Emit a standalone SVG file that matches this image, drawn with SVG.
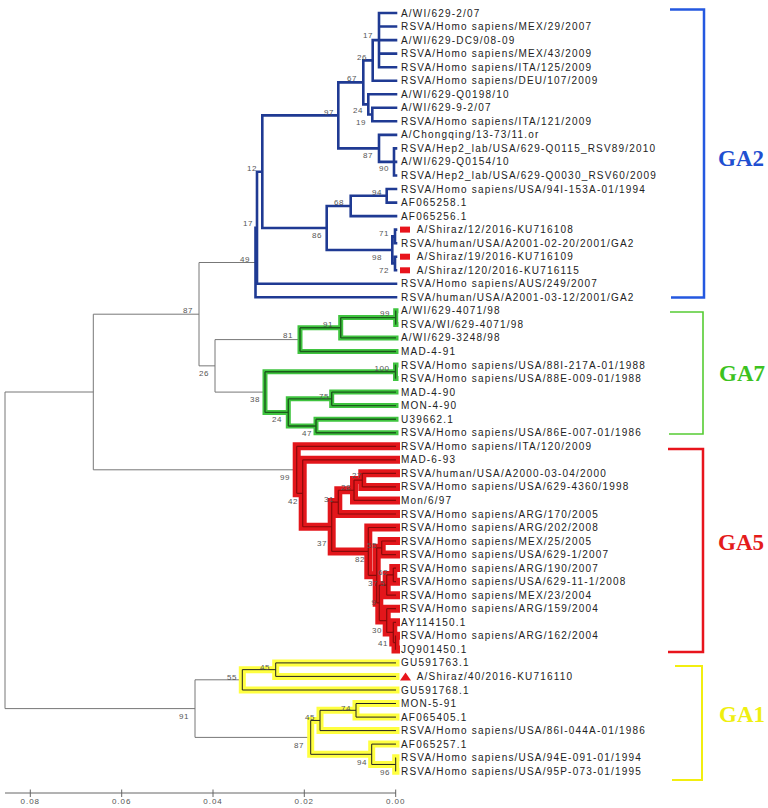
<svg xmlns="http://www.w3.org/2000/svg" width="768" height="808" viewBox="0 0 768 808">
<style>
.lbl{font-family:"Liberation Sans",Arial,sans-serif;font-size:10px;letter-spacing:1.2px;fill:#222}
.bs{font-family:"Liberation Sans",Arial,sans-serif;font-size:8px;letter-spacing:0.5px;fill:#555;text-anchor:middle}
.ga{font-family:"Liberation Serif","Times New Roman",serif;font-size:23px;font-weight:bold}
.ax{font-family:"Liberation Sans",Arial,sans-serif;font-size:8px;letter-spacing:1px;fill:#555;text-anchor:middle}
.gray{fill:none;stroke:#777;stroke-width:1}
.blue{fill:none;stroke:#1f3a93;stroke-width:2.6;stroke-linecap:square}
.band7{fill:none;stroke:#3fc43f;stroke-width:5;stroke-linecap:square}
.core7{fill:none;stroke:#1c5a1c;stroke-width:1.4}
.band5{fill:none;stroke:#e3161b;stroke-width:8;stroke-linecap:square}
.core5{fill:none;stroke:#8a0a0a;stroke-width:1.2}
.band1{fill:none;stroke:#ffff40;stroke-width:7;stroke-linecap:square}
.core1{fill:none;stroke:#222;stroke-width:1}
.mk{fill:#e8141c}
</style>
<defs>
<path id="p7" d="M395.7,310.8H396 M395.7,324.4H396 M395.7,310.8V324.4 M340.7,317.6H395.7 M340.7,337.9H396 M340.7,317.6V337.9 M300,327.75H340.7 M300,351.5H396 M300,327.75V351.5 M395.5,365H396 M395.5,378.5H396 M395.5,365V378.5 M331.7,392.1H396 M331.7,405.6H396 M331.7,392.1V405.6 M316,419.2H396 M316,432.7H396 M316,419.2V432.7 M288.3,398.85H331.7 M288.3,425.95H316 M288.3,398.85V425.95 M265,371.75H395.5 M265,412.4H288.3 M265,371.75V412.4"/>
<path id="p5" d="M362.3,473.3H396 M362.3,486.9H396 M362.3,473.3V486.9 M354,480.1H362.3 M354,500.4H396 M354,480.1V500.4 M338.3,490.25H354 M338.3,514H396 M338.3,490.25V514 M381.7,541H396 M381.7,554.6H396 M381.7,541V554.6 M393.3,568.1H396 M393.3,581.7H396 M393.3,568.1V581.7 M386.7,574.9H393.3 M386.7,595.2H396 M386.7,574.9V595.2 M395.5,635.8H396 M395.5,649.4H396 M395.5,635.8V649.4 M393.3,622.3H396 M393.3,642.6H395.5 M393.3,622.3V642.6 M386.7,608.7H396 M386.7,632.45H393.3 M386.7,608.7V632.45 M379.3,585.05H386.7 M379.3,620.6H386.7 M379.3,585.05V620.6 M376.7,547.8H381.7 M376.7,602.8H379.3 M376.7,547.8V602.8 M368.3,527.5H396 M368.3,575.3H376.7 M368.3,527.5V575.3 M331.7,502.1H338.3 M331.7,551.4H368.3 M331.7,502.1V551.4 M302.7,459.8H396 M302.7,526.75H331.7 M302.7,459.8V526.75 M296.7,446.3H396 M296.7,493.3H302.7 M296.7,446.3V493.3"/>
<path id="p1" d="M275.7,662.9H396 M275.7,676.4H396 M275.7,662.9V676.4 M242.3,669.65H275.7 M242.3,690H396 M242.3,669.65V690 M356,703.5H396 M356,717.1H396 M356,703.5V717.1 M320,710.3H356 M320,730.6H396 M320,710.3V730.6 M395.7,757.7H396 M395.7,771.2H396 M395.7,757.7V771.2 M371.7,744.1H396 M371.7,764.45H395.7 M371.7,744.1V764.45 M310.7,720.45H320 M310.7,754.3H371.7 M310.7,720.45V754.3"/>
</defs>
<rect width="768" height="808" fill="#fff"/>
<g id="connectors">
<path class="gray" d="M199,262.5H255.5 M199,365.85H215 M199,262.5V365.85 M215,339.6H300 M215,392.1H265 M215,339.6V392.1 M93.3,314.2H199 M93.3,469.8H296.7 M93.3,314.2V469.8 M5,392H93.3 M5,708.6H195 M5,392V708.6 M195,679.8H242.3 M195,737.4H310.7 M195,679.8V737.4"/>
<path class="blue" d="M379,13H396 M379,26.5H396 M379,40.1H396 M379,53.6H396 M379,67.2H396 M379,13V67.2 M372.7,40.1H379 M372.7,80.7H396 M372.7,40.1V80.7 M372.3,107.8H396 M372.3,121.3H396 M372.3,107.8V121.3 M368.3,94.2H396 M368.3,114.55H372.3 M368.3,94.2V114.55 M363.3,60.4H372.7 M363.3,104.4H368.3 M363.3,60.4V104.4 M394,148.4H396 M394,161.9H396 M394,175.5H396 M394,148.4V175.5 M379,134.9H396 M379,161.9H394 M379,134.9V161.9 M338.3,82.4H363.3 M338.3,148.4H379 M338.3,82.4V148.4 M386.7,189H396 M386.7,202.6H396 M386.7,189V202.6 M350.7,195.8H386.7 M350.7,216.1H396 M350.7,195.8V216.1 M395,229.6H396 M395,243.2H396 M395,229.6V243.2 M395,256.7H396 M395,270.3H396 M395,256.7V270.3 M392.3,236.4H395 M392.3,263.5H395 M392.3,236.4V263.5 M326.7,205.95H350.7 M326.7,249.95H392.3 M326.7,205.95V249.95 M262.3,115.4H338.3 M262.3,227.95H326.7 M262.3,115.4V227.95 M257,171.7H262.3 M257,283.8H396 M257,171.7V283.8 M255.5,227.75H257 M255.5,297.3H396 M255.5,227.75V297.3"/>
<use href="#p7" class="band7"/>
<use href="#p7" class="core7"/>
<use href="#p5" class="band5"/>
<use href="#p5" class="core5"/>
<use href="#p1" class="band1"/>
<use href="#p1" class="core1"/>
</g>
<g id="bootstrap">
<text class="bs" x="368" y="38">17</text>
<text class="bs" x="362" y="59.5">26</text>
<text class="bs" x="352" y="81">67</text>
<text class="bs" x="329" y="114.5">97</text>
<text class="bs" x="358" y="113">24</text>
<text class="bs" x="361" y="124.5">19</text>
<text class="bs" x="368" y="158">87</text>
<text class="bs" x="384" y="171">90</text>
<text class="bs" x="252" y="171">12</text>
<text class="bs" x="377" y="194.5">94</text>
<text class="bs" x="339" y="205">68</text>
<text class="bs" x="317" y="238">86</text>
<text class="bs" x="384" y="235.5">71</text>
<text class="bs" x="377" y="259.5">98</text>
<text class="bs" x="384" y="273">72</text>
<text class="bs" x="248" y="226">17</text>
<text class="bs" x="245" y="262">49</text>
<text class="bs" x="188" y="313">87</text>
<text class="bs" x="204" y="375.5">26</text>
<text class="bs" x="385" y="316">99</text>
<text class="bs" x="328" y="327">91</text>
<text class="bs" x="288" y="338">81</text>
<text class="bs" x="382" y="371">100</text>
<text class="bs" x="324" y="398.5">75</text>
<text class="bs" x="255" y="402">38</text>
<text class="bs" x="277" y="422">24</text>
<text class="bs" x="307" y="435.5">47</text>
<text class="bs" x="285" y="479.5">99</text>
<text class="bs" x="293" y="503.5">42</text>
<text class="bs" x="357" y="478">27</text>
<text class="bs" x="346" y="489.5">28</text>
<text class="bs" x="329" y="502">31</text>
<text class="bs" x="322" y="546">37</text>
<text class="bs" x="372" y="548">55</text>
<text class="bs" x="360" y="562">82</text>
<text class="bs" x="383" y="574.5">62</text>
<text class="bs" x="373" y="586">37</text>
<text class="bs" x="383" y="586">5</text>
<text class="bs" x="374" y="604.5">9</text>
<text class="bs" x="377" y="633">30</text>
<text class="bs" x="383" y="646">41</text>
<text class="bs" x="265" y="669.5">45</text>
<text class="bs" x="232" y="680">55</text>
<text class="bs" x="184" y="719">91</text>
<text class="bs" x="346" y="710.5">74</text>
<text class="bs" x="310" y="720">45</text>
<text class="bs" x="299" y="748">87</text>
<text class="bs" x="362" y="765">94</text>
<text class="bs" x="385" y="775">96</text>
</g>
<g id="leaf-01"><text class="lbl" x="401" y="16.5">A/WI/629-2/07</text></g>
<g id="leaf-02"><text class="lbl" x="401" y="30">RSVA/Homo sapiens/MEX/29/2007</text></g>
<g id="leaf-03"><text class="lbl" x="401" y="43.6">A/WI/629-DC9/08-09</text></g>
<g id="leaf-04"><text class="lbl" x="401" y="57.1">RSVA/Homo sapiens/MEX/43/2009</text></g>
<g id="leaf-05"><text class="lbl" x="401" y="70.7">RSVA/Homo sapiens/ITA/125/2009</text></g>
<g id="leaf-06"><text class="lbl" x="401" y="84.2">RSVA/Homo sapiens/DEU/107/2009</text></g>
<g id="leaf-07"><text class="lbl" x="401" y="97.7">A/WI/629-Q0198/10</text></g>
<g id="leaf-08"><text class="lbl" x="401" y="111.3">A/WI/629-9-2/07</text></g>
<g id="leaf-09"><text class="lbl" x="401" y="124.8">RSVA/Homo sapiens/ITA/121/2009</text></g>
<g id="leaf-10"><text class="lbl" x="401" y="138.4">A/Chongqing/13-73/11.or</text></g>
<g id="leaf-11"><text class="lbl" x="401" y="151.9">RSVA/Hep2_lab/USA/629-Q0115_RSV89/2010</text></g>
<g id="leaf-12"><text class="lbl" x="401" y="165.4">A/WI/629-Q0154/10</text></g>
<g id="leaf-13"><text class="lbl" x="401" y="179">RSVA/Hep2_lab/USA/629-Q0030_RSV60/2009</text></g>
<g id="leaf-14"><text class="lbl" x="401" y="192.5">RSVA/Homo sapiens/USA/94I-153A-01/1994</text></g>
<g id="leaf-15"><text class="lbl" x="401" y="206.1">AF065258.1</text></g>
<g id="leaf-16"><text class="lbl" x="401" y="219.6">AF065256.1</text></g>
<g id="leaf-17"><rect class="mk" x="400" y="226.6" width="10" height="6"/><text class="lbl" x="416.7" y="233.1">A/Shiraz/12/2016-KU716108</text></g>
<g id="leaf-18"><text class="lbl" x="401" y="246.7">RSVA/human/USA/A2001-02-20/2001/GA2</text></g>
<g id="leaf-19"><rect class="mk" x="400" y="253.7" width="10" height="6"/><text class="lbl" x="416.7" y="260.2">A/Shiraz/19/2016-KU716109</text></g>
<g id="leaf-20"><rect class="mk" x="400" y="267.3" width="10" height="6"/><text class="lbl" x="416.7" y="273.8">A/Shiraz/120/2016-KU716115</text></g>
<g id="leaf-21"><text class="lbl" x="401" y="287.3">RSVA/Homo sapiens/AUS/249/2007</text></g>
<g id="leaf-22"><text class="lbl" x="401" y="300.8">RSVA/human/USA/A2001-03-12/2001/GA2</text></g>
<g id="leaf-23"><text class="lbl" x="401" y="314.3">A/WI/629-4071/98</text></g>
<g id="leaf-24"><text class="lbl" x="401" y="327.9">RSVA/WI/629-4071/98</text></g>
<g id="leaf-25"><text class="lbl" x="401" y="341.4">A/WI/629-3248/98</text></g>
<g id="leaf-26"><text class="lbl" x="401" y="355">MAD-4-91</text></g>
<g id="leaf-27"><text class="lbl" x="401" y="368.5">RSVA/Homo sapiens/USA/88I-217A-01/1988</text></g>
<g id="leaf-28"><text class="lbl" x="401" y="382">RSVA/Homo sapiens/USA/88E-009-01/1988</text></g>
<g id="leaf-29"><text class="lbl" x="401" y="395.6">MAD-4-90</text></g>
<g id="leaf-30"><text class="lbl" x="401" y="409.1">MON-4-90</text></g>
<g id="leaf-31"><text class="lbl" x="401" y="422.7">U39662.1</text></g>
<g id="leaf-32"><text class="lbl" x="401" y="436.2">RSVA/Homo sapiens/USA/86E-007-01/1986</text></g>
<g id="leaf-33"><text class="lbl" x="401" y="449.8">RSVA/Homo sapiens/ITA/120/2009</text></g>
<g id="leaf-34"><text class="lbl" x="401" y="463.3">MAD-6-93</text></g>
<g id="leaf-35"><text class="lbl" x="401" y="476.8">RSVA/human/USA/A2000-03-04/2000</text></g>
<g id="leaf-36"><text class="lbl" x="401" y="490.4">RSVA/Homo sapiens/USA/629-4360/1998</text></g>
<g id="leaf-37"><text class="lbl" x="401" y="503.9">Mon/6/97</text></g>
<g id="leaf-38"><text class="lbl" x="401" y="517.5">RSVA/Homo sapiens/ARG/170/2005</text></g>
<g id="leaf-39"><text class="lbl" x="401" y="531">RSVA/Homo sapiens/ARG/202/2008</text></g>
<g id="leaf-40"><text class="lbl" x="401" y="544.5">RSVA/Homo sapiens/MEX/25/2005</text></g>
<g id="leaf-41"><text class="lbl" x="401" y="558.1">RSVA/Homo sapiens/USA/629-1/2007</text></g>
<g id="leaf-42"><text class="lbl" x="401" y="571.6">RSVA/Homo sapiens/ARG/190/2007</text></g>
<g id="leaf-43"><text class="lbl" x="401" y="585.2">RSVA/Homo sapiens/USA/629-11-1/2008</text></g>
<g id="leaf-44"><text class="lbl" x="401" y="598.7">RSVA/Homo sapiens/MEX/23/2004</text></g>
<g id="leaf-45"><text class="lbl" x="401" y="612.2">RSVA/Homo sapiens/ARG/159/2004</text></g>
<g id="leaf-46"><text class="lbl" x="401" y="625.8">AY114150.1</text></g>
<g id="leaf-47"><text class="lbl" x="401" y="639.3">RSVA/Homo sapiens/ARG/162/2004</text></g>
<g id="leaf-48"><text class="lbl" x="401" y="652.9">JQ901450.1</text></g>
<g id="leaf-49"><text class="lbl" x="401" y="666.4">GU591763.1</text></g>
<g id="leaf-50"><polygon class="mk" points="400,680.5 405.5,672.4 411,680.5"/><text class="lbl" x="416.7" y="679.9">A/Shiraz/40/2016-KU716110</text></g>
<g id="leaf-51"><text class="lbl" x="401" y="693.5">GU591768.1</text></g>
<g id="leaf-52"><text class="lbl" x="401" y="707">MON-5-91</text></g>
<g id="leaf-53"><text class="lbl" x="401" y="720.6">AF065405.1</text></g>
<g id="leaf-54"><text class="lbl" x="401" y="734.1">RSVA/Homo sapiens/USA/86I-044A-01/1986</text></g>
<g id="leaf-55"><text class="lbl" x="401" y="747.6">AF065257.1</text></g>
<g id="leaf-56"><text class="lbl" x="401" y="761.2">RSVA/Homo sapiens/USA/94E-091-01/1994</text></g>
<g id="leaf-57"><text class="lbl" x="401" y="774.7">RSVA/Homo sapiens/USA/95P-073-01/1995</text></g>
<g id="clade-GA2"><path d="M670,9.5H704V297.5H671" fill="none" stroke="#2458e0" stroke-width="2.5"/><text class="ga" x="718" y="166" fill="#1f4fd1">GA2</text></g>
<g id="clade-GA7"><path d="M670,312H703V434H669" fill="none" stroke="#55cc33" stroke-width="1.6"/><text class="ga" x="719" y="381" fill="#3cc21f">GA7</text></g>
<g id="clade-GA5"><path d="M668,449H703V652H668" fill="none" stroke="#e8141c" stroke-width="2.5"/><text class="ga" x="718" y="550" fill="#e41b1b">GA5</text></g>
<g id="clade-GA1"><path d="M675,666H702V780H672" fill="none" stroke="#f2ee10" stroke-width="2"/><text class="ga" x="719" y="722" fill="#efef10">GA1</text></g>
<g id="axis">
<path d="M5,793H396 M30.3,789.5V797 M121.7,789.5V797 M213,789.5V797 M304.3,789.5V797 M395.7,789.5V797" fill="none" stroke="#666" stroke-width="1"/>
<text class="ax" x="30.3" y="804">0.08</text>
<text class="ax" x="121.7" y="804">0.06</text>
<text class="ax" x="213" y="804">0.04</text>
<text class="ax" x="304.3" y="804">0.02</text>
<text class="ax" x="395.7" y="804">0.00</text>
</g>
</svg>
